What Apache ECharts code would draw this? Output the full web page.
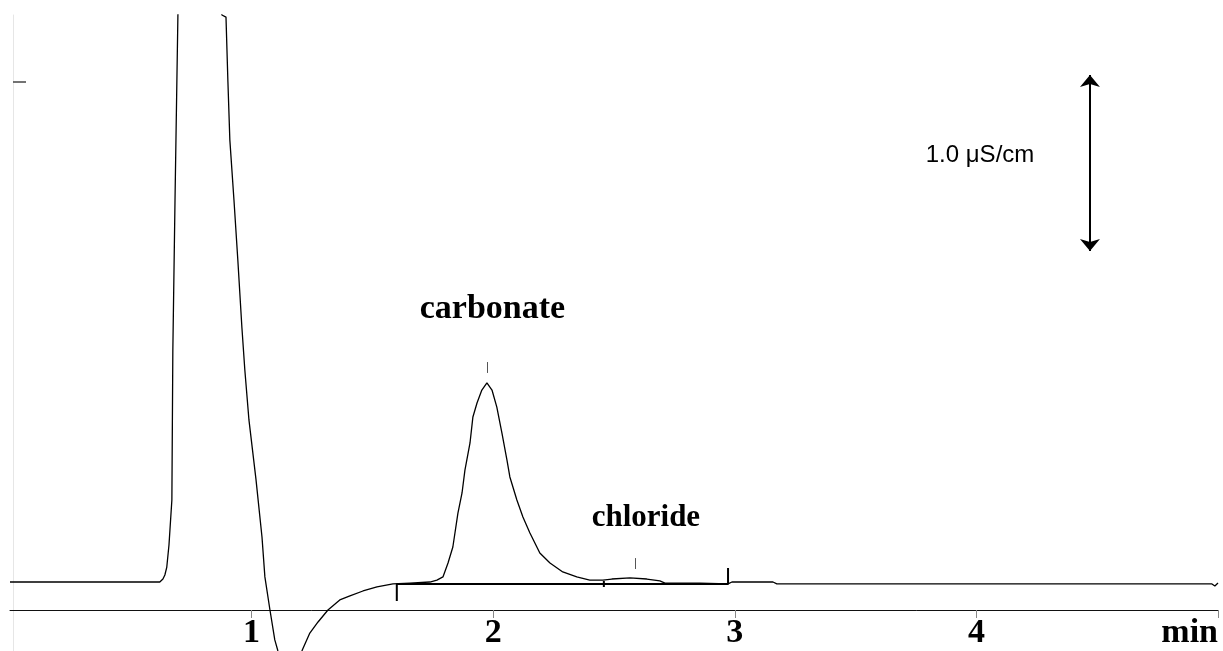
<!DOCTYPE html>
<html>
<head>
<meta charset="utf-8">
<script src="https://cdn.jsdelivr.net/npm/echarts@6/dist/echarts.min.js"></script>
<style>
  html, body { margin: 0; padding: 0; background: #fff; }
  #chart { width: 1223px; height: 651px; }
</style>
</head>
<body>
<div id="chart"></div>
<script>
// retention time (min) and conductivity (uS/cm)
const time = [0, 0.3, 0.62, 0.633, 0.641, 0.649, 0.658, 0.662, 0.67, 0.674, 0.683, 0.695,
  0.712, 0.786, 0.86, 0.877, 0.894, 0.902, 0.91, 0.927, 0.943, 0.96, 0.972, 0.989, 1.018,
  1.043, 1.055, 1.076, 1.096, 1.109, 1.159, 1.208, 1.241, 1.275, 1.316, 1.365, 1.407, 1.461,
  1.519, 1.585, 1.655, 1.738, 1.767, 1.792, 1.813, 1.833, 1.854, 1.871, 1.883, 1.904, 1.916,
  1.933, 1.953, 1.974, 1.995, 2.015, 2.036, 2.057, 2.069, 2.098, 2.123, 2.152, 2.193, 2.235,
  2.288, 2.346, 2.4, 2.454, 2.491, 2.566, 2.636, 2.69, 2.711, 2.856, 2.972, 2.988, 3.158,
  3.174, 4.097, 4.975, 4.987, 5.0]
const cond = [0.159, 0.159, 0.159, 0.176, 0.199, 0.244, 0.369, 0.455, 0.625, 1.477, 2.33, 3.381,
  3.807, 4.318, 3.807, 3.381, 3.369, 3.0, 2.67, 2.33, 1.989, 1.602, 1.364, 1.08, 0.744,
  0.415, 0.188, 0.0, -0.17, -0.233, -0.352, -0.233, -0.131, -0.068, 0.0, 0.057, 0.08, 0.108,
  0.131, 0.148, 0.153, 0.159, 0.17, 0.188, 0.267, 0.358, 0.551, 0.665, 0.795, 0.949, 1.097,
  1.176, 1.25, 1.29, 1.25, 1.153, 1.006, 0.852, 0.756, 0.625, 0.528, 0.438, 0.324, 0.267,
  0.216, 0.188, 0.17, 0.17, 0.176, 0.182, 0.176, 0.165, 0.153, 0.153, 0.148, 0.159, 0.159,
  0.148, 0.148, 0.148, 0.136, 0.153]

// integration baseline with its start / split / end marks
const baseT = [1.601, 1.601, 2.458, 2.458, 2.458, 2.458, 2.972, 2.972]
const baseV = [0.051, 0.148, 0.148, 0.131, 0.165, 0.148, 0.148, 0.239]

// peak apex marks and names
const peakNames = ['carbonate', 'chloride']
const peakT = [1.974, 2.587]
const peakLo = [1.347, 0.233]
const peakHi = [1.409, 0.295]
const nameT = [1.997, 2.632]
const nameV = [1.71, 0.523]

// scale bar: 1.0 uS/cm
const barT = 4.47
const barV = [2.04, 3.04]
const barLabel = '1.0 μS/cm'
const barLabelPos = [4.015, 2.585]

const xTicks = [1, 2, 3, 4, 5]

const chart = echarts.init(document.getElementById('chart'))
const option = {
  animation: false,
  grid: { left: 10, right: 5, top: 15, bottom: 0, outerBoundsMode: 'none', containLabel: false },
  xAxis: {
    type: 'value',
    min: 0,
    max: 5,
    interval: 1,
    position: 'bottom',
    offset: -41, // axis sits at zero signal, above the plot bottom
    axisLine: { onZero: false, lineStyle: { color: '#111', width: 1 } },
    axisTick: { length: 8, lineStyle: { color: '#888', width: 1 } },
    splitLine: { show: false },
    axisLabel: {
      showMinLabel: false,
      alignMaxLabel: 'right',
      margin: 6,
      fontFamily: 'Liberation Serif',
      fontWeight: 'bold',
      fontSize: 34,
      color: '#000',
      formatter: v => (v === 5 ? 'min' : (xTicks.indexOf(v) >= 0 ? String(v) : ''))
    }
  },
  yAxis: {
    type: 'value',
    min: -0.233,
    max: 3.381,
    offset: -3,
    axisLine: { show: true, lineStyle: { color: '#e6e6e6' } },
    axisTick: { show: true, inside: true, length: 13, customValues: [3], lineStyle: { color: '#444', width: 1.5 } },
    axisLabel: { show: false },
    splitLine: { show: false }
  },
  series: [
    {
      name: 'signal',
      type: 'line',
      data: time.map((t, i) => [t, cond[i]]),
      showSymbol: false,
      clip: true,
      lineStyle: { color: '#000', width: 1.3 },
      markPoint: {
        symbolSize: 0,
        data: [
          ...peakNames.map((n, i) => ({
            coord: [nameT[i], nameV[i]],
            label: {
              show: true, formatter: n, fontFamily: 'Liberation Serif', fontWeight: 'bold',
              fontSize: i === 0 ? 34 : 31, color: '#000'
            }
          })),
          {
            coord: barLabelPos,
            label: { show: true, formatter: barLabel, fontFamily: 'Liberation Sans', fontSize: 24, color: '#000' }
          }
        ]
      },
      markLine: {
        silent: true,
        symbol: 'none',
        label: { show: false },
        lineStyle: { color: '#555', width: 1, type: 'solid' },
        data: peakT.map((t, i) => [{ coord: [t, peakLo[i]] }, { coord: [t, peakHi[i]] }])
      }
    },
    {
      name: 'baseline',
      type: 'line',
      data: baseT.map((t, i) => [t, baseV[i]]),
      showSymbol: false,
      lineStyle: { color: '#000', width: 2 },
      markLine: {
        silent: true,
        symbol: ['arrow', 'arrow'],
        symbolSize: [15, 12],
        label: { show: false },
        lineStyle: { color: '#000', width: 2, type: 'solid' },
        data: [[{ coord: [barT, barV[0]] }, { coord: [barT, barV[1]] }]]
      }
    }
  ]
}
chart.setOption(option)
window.onresize = () => {
  chart.resize()
}
</script>
</body>
</html>
